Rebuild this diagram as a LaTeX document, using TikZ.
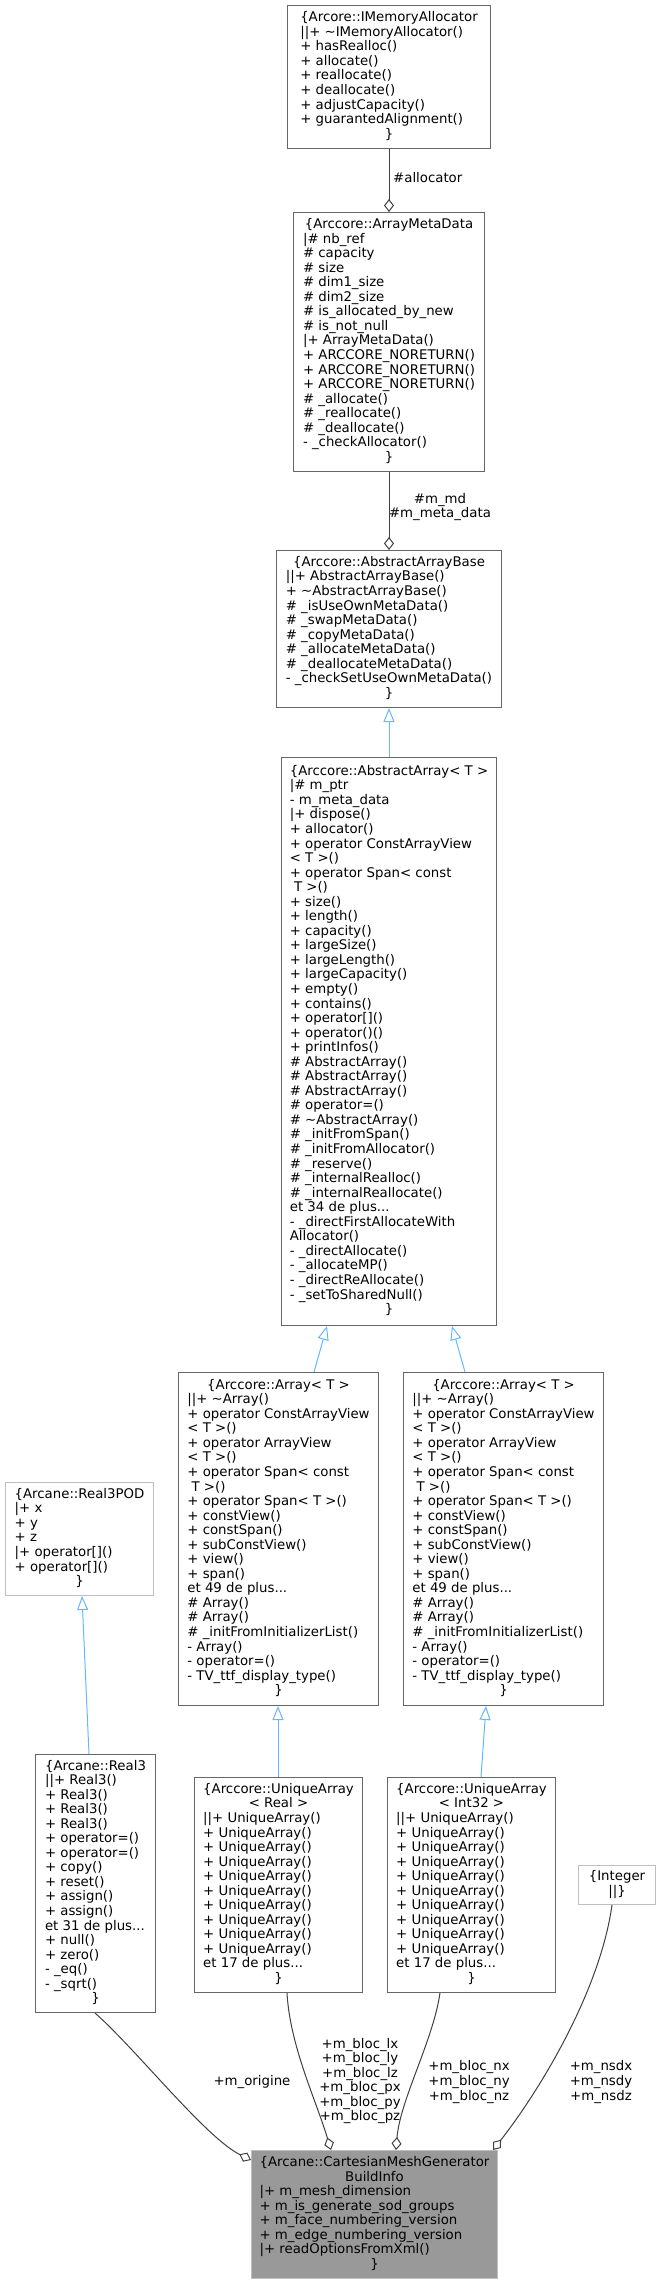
\documentclass[tikz,border=0pt]{standalone}
\usepackage{fontspec}
\setmainfont{DejaVu Sans}
\usepackage{xcolor}
\usepackage{tikz}
\usetikzlibrary{arrows.meta,positioning}
\definecolor{boxline}{HTML}{666666}
\definecolor{boxlight}{HTML}{BFBFBF}
\definecolor{rootfill}{HTML}{999999}
\definecolor{aggrline}{HTML}{404040}
\definecolor{inhline}{HTML}{63B8FF}
\newcommand{\dfont}{\fontsize{13.3}{14.55}\selectfont}
\newcommand{\ctrline}[1]{\multicolumn{1}{@{}c@{}}{#1}}
\tikzset{
  dbox/.style={rectangle, draw=boxline, fill=white, line width=1pt, font=\dfont,
    inner sep=2pt},
  dlight/.style={dbox, draw=boxlight},
  droot/.style={dbox, draw=boxlight, fill=rootfill},
  daggr/.style={-{Diamond[open,length=13pt,width=10pt]}, aggrline, line width=1pt},
  dinh/.style={-{Triangle[open,length=14pt,width=11pt]}, inhline, line width=1pt},
  dlbl/.style={font=\dfont, align=center, inner sep=0pt}
}

\begin{document}
\begin{tikzpicture}[x=1pt,y=-1pt]
\useasboundingbox (0,0) rectangle (660,2284);
% allocator chain
\node[dbox,minimum width=203pt,minimum height=143pt,anchor=north west] (mem) at (287,5) {\begin{tabular}{@{}l@{}}
\ctrline{\{Arcore::IMemoryAllocator}\\
||+ \textasciitilde IMemoryAllocator()\\
+ hasRealloc()\\
+ allocate()\\
+ reallocate()\\
+ deallocate()\\
+ adjustCapacity()\\
+ guarantedAlignment()\\
\ctrline{\}}
\end{tabular}};
\node[dbox,minimum width=191pt,minimum height=259pt,below=63pt of mem] (meta) {\begin{tabular}{@{}l@{}}
\ctrline{\{Arccore::ArrayMetaData}\\
|\# nb\_ref\\
\# capacity\\
\# size\\
\# dim1\_size\\
\# dim2\_size\\
\# is\_allocated\_by\_new\\
\# is\_not\_null\\
|+ ArrayMetaData()\\
+ ARCCORE\_NORETURN()\\
+ ARCCORE\_NORETURN()\\
+ ARCCORE\_NORETURN()\\
\# \_allocate()\\
\# \_reallocate()\\
\# \_deallocate()\\
- \_checkAllocator()\\
\ctrline{\}}
\end{tabular}};
\node[dbox,minimum width=225pt,minimum height=157pt,below=78pt of meta] (base) {\begin{tabular}{@{}l@{}}
\ctrline{\{Arccore::AbstractArrayBase}\\
||+ AbstractArrayBase()\\
+ \textasciitilde AbstractArrayBase()\\
\# \_isUseOwnMetaData()\\
\# \_swapMetaData()\\
\# \_copyMetaData()\\
\# \_allocateMetaData()\\
\# \_deallocateMetaData()\\
- \_checkSetUseOwnMetaData()\\
\ctrline{\}}
\end{tabular}};
\node[dbox,minimum width=215pt,minimum height=568pt,below=49pt of base] (abs) {\begin{tabular}{@{}l@{}}
\ctrline{\{Arccore::AbstractArray< T >}\\
|\# m\_ptr\\
- m\_meta\_data\\
|+ dispose()\\
+ allocator()\\
+ operator ConstArrayView\\
< T >()\\
+ operator Span< const\\
\ T >()\\
+ size()\\
+ length()\\
+ capacity()\\
+ largeSize()\\
+ largeLength()\\
+ largeCapacity()\\
+ empty()\\
+ contains()\\
+ operator[]()\\
+ operator()()\\
+ printInfos()\\
\# AbstractArray()\\
\# AbstractArray()\\
\# AbstractArray()\\
\# operator=()\\
\# \textasciitilde AbstractArray()\\
\# \_initFromSpan()\\
\# \_initFromAllocator()\\
\# \_reserve()\\
\# \_internalRealloc()\\
\# \_internalReallocate()\\
et 34 de plus...\\
- \_directFirstAllocateWith\\
Allocator()\\
- \_directAllocate()\\
- \_allocateMP()\\
- \_directReAllocate()\\
- \_setToSharedNull()\\
\ctrline{\}}
\end{tabular}};
% the two Array< T >
\node[dbox,minimum width=200pt,minimum height=333pt,anchor=north west] (arrL) at (178,1372) {\begin{tabular}{@{}l@{}}
\ctrline{\{Arccore::Array< T >}\\
||+ \textasciitilde Array()\\
+ operator ConstArrayView\\
< T >()\\
+ operator ArrayView\\
< T >()\\
+ operator Span< const\\
\ T >()\\
+ operator Span< T >()\\
+ constView()\\
+ constSpan()\\
+ subConstView()\\
+ view()\\
+ span()\\
et 49 de plus...\\
\# Array()\\
\# Array()\\
\# \_initFromInitializerList()\\
- Array()\\
- operator=()\\
- TV\_ttf\_display\_type()\\
\ctrline{\}}
\end{tabular}};
\node[dbox,minimum width=200pt,minimum height=333pt,right=24pt of arrL] (arrR) {\begin{tabular}{@{}l@{}}
\ctrline{\{Arccore::Array< T >}\\
||+ \textasciitilde Array()\\
+ operator ConstArrayView\\
< T >()\\
+ operator ArrayView\\
< T >()\\
+ operator Span< const\\
\ T >()\\
+ operator Span< T >()\\
+ constView()\\
+ constSpan()\\
+ subConstView()\\
+ view()\\
+ span()\\
et 49 de plus...\\
\# Array()\\
\# Array()\\
\# \_initFromInitializerList()\\
- Array()\\
- operator=()\\
- TV\_ttf\_display\_type()\\
\ctrline{\}}
\end{tabular}};
% Real3
\node[dlight,minimum width=148pt,minimum height=113pt,anchor=north west] (pod) at (5,1482) {\begin{tabular}{@{}l@{}}
\ctrline{\{Arcane::Real3POD}\\
|+ x\\
+ y\\
+ z\\
|+ operator[]()\\
+ operator[]()\\
\ctrline{\}}
\end{tabular}};
\node[dbox,minimum width=120pt,minimum height=258pt,anchor=north west] (real3) at (35,1754) {\begin{tabular}{@{}l@{}}
\ctrline{\{Arcane::Real3}\\
||+ Real3()\\
+ Real3()\\
+ Real3()\\
+ Real3()\\
+ operator=()\\
+ operator=()\\
+ copy()\\
+ reset()\\
+ assign()\\
+ assign()\\
et 31 de plus...\\
+ null()\\
+ zero()\\
- \_eq()\\
- \_sqrt()\\
\ctrline{\}}
\end{tabular}};
% UniqueArray
\node[dbox,minimum width=168pt,minimum height=215pt,anchor=north west] (uReal) at (194,1777) {\begin{tabular}{@{}l@{}}
\ctrline{\{Arccore::UniqueArray}\\
\ctrline{< Real >}\\
||+ UniqueArray()\\
+ UniqueArray()\\
+ UniqueArray()\\
+ UniqueArray()\\
+ UniqueArray()\\
+ UniqueArray()\\
+ UniqueArray()\\
+ UniqueArray()\\
+ UniqueArray()\\
+ UniqueArray()\\
et 17 de plus...\\
\ctrline{\}}
\end{tabular}};
\node[dbox,minimum width=168pt,minimum height=215pt,right=24pt of uReal] (uInt) {\begin{tabular}{@{}l@{}}
\ctrline{\{Arccore::UniqueArray}\\
\ctrline{< Int32 >}\\
||+ UniqueArray()\\
+ UniqueArray()\\
+ UniqueArray()\\
+ UniqueArray()\\
+ UniqueArray()\\
+ UniqueArray()\\
+ UniqueArray()\\
+ UniqueArray()\\
+ UniqueArray()\\
+ UniqueArray()\\
et 17 de plus...\\
\ctrline{\}}
\end{tabular}};
\node[dlight,minimum width=77pt,minimum height=39pt,anchor=north west] (intg) at (578,1865) {\begin{tabular}{@{}c@{}}
\{Integer\\
||\}
\end{tabular}};
% root
\node[droot,minimum width=246pt,minimum height=128pt,anchor=north west] (main) at (251,2150) {\begin{tabular}{@{}l@{}}
\ctrline{\{Arcane::CartesianMeshGenerator}\\
\ctrline{BuildInfo}\\
|+ m\_mesh\_dimension\\
+ m\_is\_generate\_sod\_groups\\
+ m\_face\_numbering\_version\\
+ m\_edge\_numbering\_version\\
|+ readOptionsFromXml()\\
\ctrline{\}}
\end{tabular}};
% edge labels
\node[dlbl,anchor=west] (lAlloc) at (393,178) {\#allocator};
\node[dlbl] (lMeta) at (440,507) {\#m\_md\\\#m\_meta\_data};
\node[dlbl] (lOrig) at (252,2082) {+m\_origine};
\node[dlbl] (lBlocL) at (360,2081) {+m\_bloc\_lx\\+m\_bloc\_ly\\+m\_bloc\_lz\\+m\_bloc\_px\\+m\_bloc\_py\\+m\_bloc\_pz};
\node[dlbl] (lBlocN) at (469,2082) {+m\_bloc\_nx\\+m\_bloc\_ny\\+m\_bloc\_nz};
\node[dlbl] (lNsd) at (601,2082) {+m\_nsdx\\+m\_nsdy\\+m\_nsdz};
% connectors
\draw[daggr] (mem) -- (meta);
\draw[daggr] (meta) -- (base);
\draw[dinh] (abs) -- (base);
\draw[dinh] ([xshift=136pt]arrL.north west) -- ([xshift=46pt]abs.south west);
\draw[dinh] ([xshift=62pt]arrR.north west) -- ([xshift=171pt]abs.south west);
\draw[dinh] ([xshift=84pt]uReal.north west) -- ([xshift=100pt]arrL.south west);
\draw[dinh] ([xshift=94pt]uInt.north west) -- ([xshift=83pt]arrR.south west);
\draw[dinh] ([xshift=54pt]real3.north west) -- ([xshift=77pt]pod.south west);
\draw[daggr] ([xshift=60pt]real3.south west) .. controls +(40,35) and +(-45,-22) .. ([yshift=-10pt]main.north west);
\draw[daggr] ([xshift=93pt]uReal.south west) .. controls +(3,53) and +(-15,-50) .. ([xshift=80pt]main.north west);
\draw[daggr] ([xshift=53pt]uInt.south west) .. controls +(-7,48) and +(4,-50) .. ([xshift=145pt]main.north west);
\draw[daggr] ([xshift=34pt]intg.south west) .. controls +(-12,86) and +(47,-60) .. ([xshift=242pt]main.north west);
\end{tikzpicture}
\end{document}
